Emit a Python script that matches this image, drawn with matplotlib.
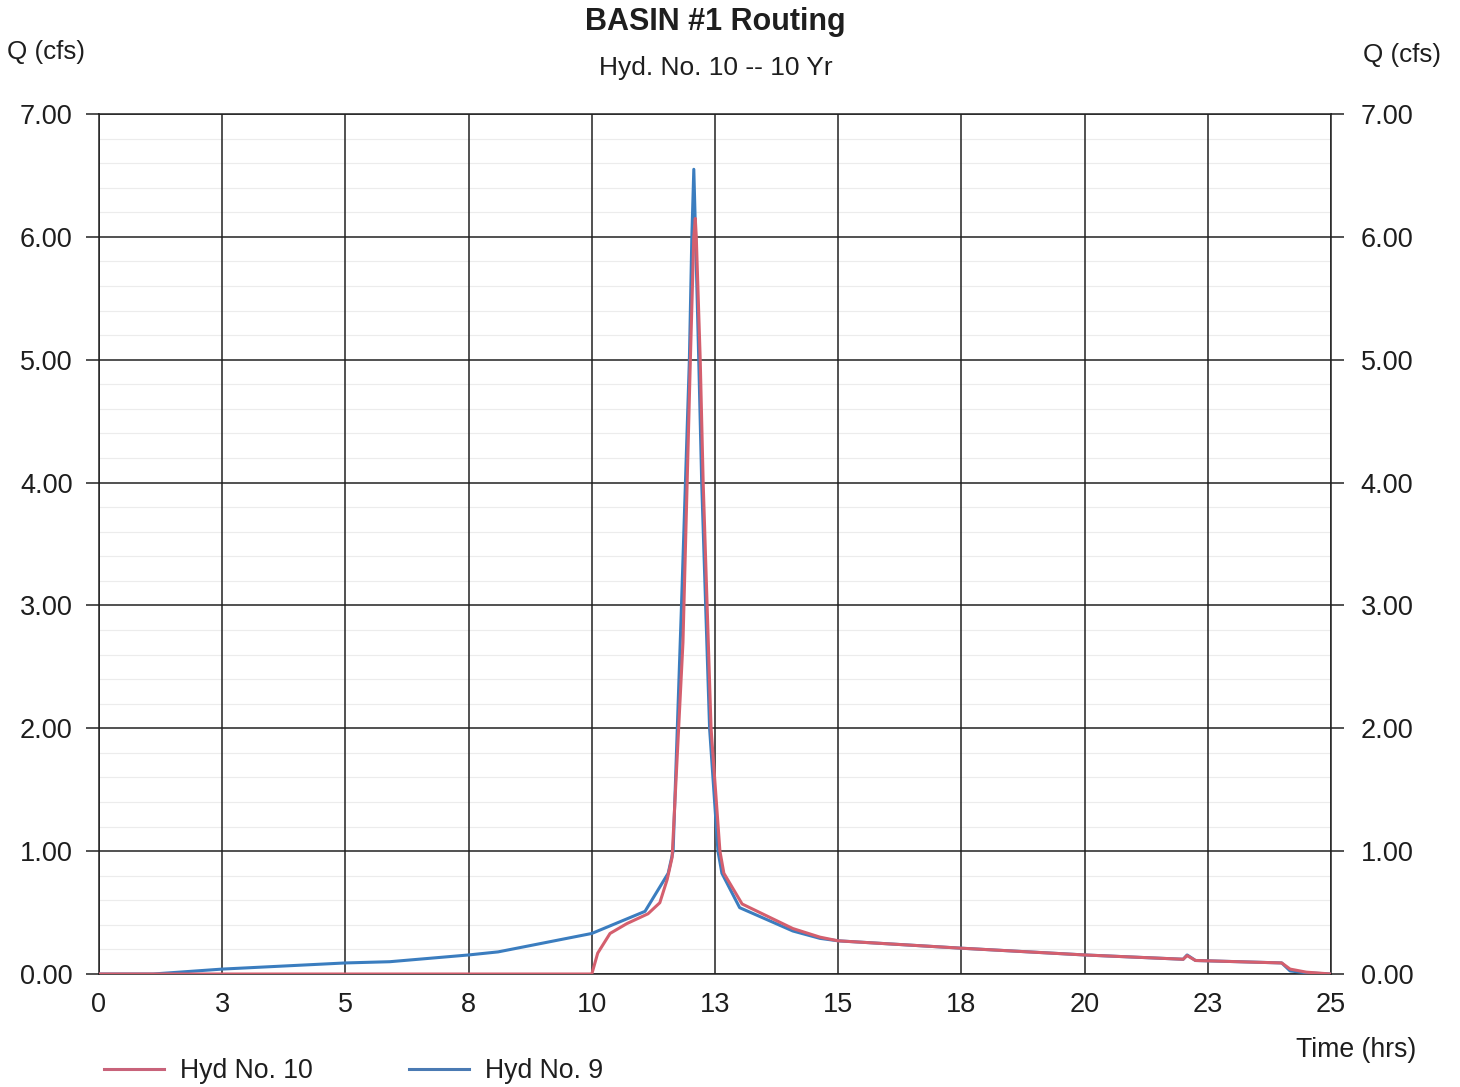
import numpy as np
import matplotlib
matplotlib.use('Agg')
import matplotlib.pyplot as plt
from matplotlib.lines import Line2D

plt.rcParams['font.family'] = ['Liberation Sans', 'DejaVu Sans']

# Hyd No. 9 (blue) - time (hrs), flow (cfs)
t9 = [0, 1.1, 2.5, 5.0, 5.9, 7.5, 8.1, 10.0, 11.08, 11.55, 11.65, 11.82, 11.98, 12.03, 12.07,
      12.1, 12.17, 12.23, 12.31, 12.39, 12.56, 12.64, 13.0, 14.08, 14.63, 15.0, 17.5, 20.0,
      22.0, 22.08, 22.25, 24.0, 24.17, 24.5, 25.0]
q9 = [0, 0.0, 0.04, 0.09, 0.10, 0.155, 0.18, 0.33, 0.51, 0.82, 1.0, 3.0, 5.0, 6.0, 6.55,
      6.1, 5.0, 4.0, 3.0, 2.0, 1.0, 0.82, 0.54, 0.35, 0.29, 0.27, 0.21, 0.155,
      0.12, 0.155, 0.11, 0.09, 0.025, 0.01, 0.0]

# Hyd No. 10 (red)
t10 = [0, 10.0, 10.12, 10.37, 10.71, 11.14, 11.38, 11.53, 11.63, 11.85, 12.0, 12.07, 12.1,
       12.12, 12.2, 12.26, 12.34, 12.42, 12.6, 12.68, 13.05, 14.08, 14.63, 15.0, 17.5, 20.0,
       22.0, 22.08, 22.25, 24.0, 24.17, 24.5, 25.0]
q10 = [0, 0, 0.17, 0.33, 0.41, 0.49, 0.58, 0.77, 0.95, 2.7, 5.0, 6.0, 6.15,
       6.0, 5.0, 4.0, 3.0, 2.0, 1.0, 0.82, 0.57, 0.37, 0.30, 0.27, 0.21, 0.155,
       0.12, 0.15, 0.11, 0.09, 0.04, 0.015, 0.0]

xticks = np.arange(0, 25.01, 2.5)
xlabels = ['0', '3', '5', '8', '10', '13', '15', '18', '20', '23', '25']
yticks = np.arange(0, 7.01, 1.0)
ylabels = ['%.2f' % v for v in yticks]

red = '#d45f6e'
blue = '#3b7dbf'
gridc = '#222222'
txtc = '#1e1e1e'

fig = plt.figure(figsize=(14.6, 10.87), dpi=100)
ax = fig.add_axes([99/1460, 1 - 974/1087, (1331-99)/1460, (974-114)/1087])

# faint minor lines
for y in np.arange(0.2, 7.0, 0.2):
    if abs(y - round(y)) > 0.05:
        ax.axhline(y, color='#ececec', lw=0.8, zorder=0)

ax.set_xlim(0, 25)
ax.set_ylim(0, 7)
ax.set_xticks(xticks)
ax.set_xticklabels(xlabels)
ax.set_yticks(yticks)
ax.set_yticklabels(ylabels)
ax.grid(True, color=gridc, lw=1.1, zorder=1)
for s in ax.spines.values():
    s.set_color(gridc)
    s.set_linewidth(1.1)

ax.tick_params(axis='x', length=0, pad=13, labelsize=19.5, colors=txtc)
ax.tick_params(axis='y', length=9.5, width=1.1, color=gridc, pad=9.5,
               labelsize=19.5, labelcolor=txtc)

ax2 = ax.twinx()
ax2.set_ylim(0, 7)
ax2.set_yticks(yticks)
ax2.set_yticklabels(ylabels)
ax2.tick_params(axis='y', length=9.5, width=1.1, color=gridc, pad=12,
                labelsize=19.5, labelcolor=txtc)
for s in ax2.spines.values():
    s.set_visible(False)

ax.plot(t9, q9, color=blue, lw=2.2, zorder=3)
ax.plot(t10, q10, color=red, lw=2.2, zorder=4)

fig.text(715/1460, 1 - 22/1087, 'BASIN #1 Routing', ha='center', va='center',
         fontsize=22, fontweight='bold', color=txtc)
fig.text(716/1460, 1 - 68/1087, 'Hyd. No. 10 -- 10 Yr', ha='center', va='center',
         fontsize=19, color=txtc)
fig.text(46/1460, 1 - 52/1087, 'Q (cfs)', ha='center', va='center', fontsize=18.7, color=txtc)
fig.text(1402/1460, 1 - 55/1087, 'Q (cfs)', ha='center', va='center', fontsize=18.7, color=txtc)
fig.text(1356/1460, 1 - 1050/1087, 'Time (hrs)', ha='center', va='center', fontsize=19.2, color=txtc)

handles = [Line2D([], [], color='#c8637a', lw=2.2), Line2D([], [], color='#4a7ab3', lw=2.2)]
fig.legend(handles, ['Hyd No. 10', 'Hyd No. 9'], loc='center left',
           bbox_to_anchor=(80/1460, 1 - 1071/1087), ncol=2, frameon=False,
           fontsize=19.2, handlelength=2.25, handletextpad=0.6, columnspacing=3.6,
           labelcolor=txtc)

fig.savefig('out.png', dpi=100)
